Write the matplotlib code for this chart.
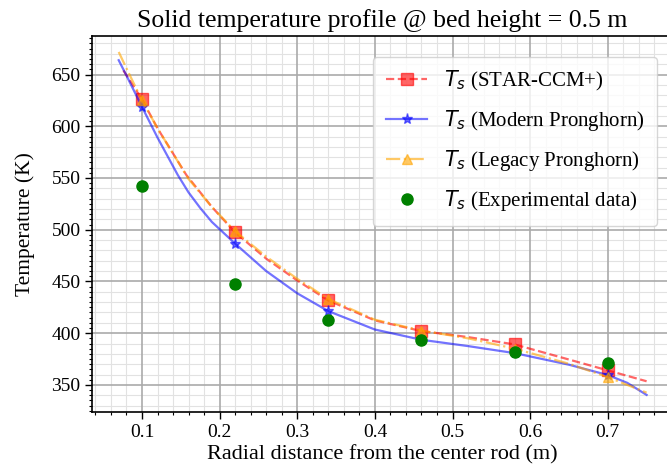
import numpy as np
import matplotlib
matplotlib.use("Agg")
import matplotlib.pyplot as plt
from matplotlib.ticker import MultipleLocator

plt.rcParams['font.family'] = ['Liberation Serif', 'DejaVu Serif']
plt.rcParams['mathtext.fontset'] = 'dejavusans'

# ---- data ----
marker_x = [0.10, 0.22, 0.34, 0.46, 0.58, 0.70]

star_x = [0.076, 0.10, 0.12, 0.157, 0.19, 0.22, 0.26, 0.30, 0.34, 0.40, 0.46, 0.52, 0.58, 0.65, 0.70, 0.75]
star_T = [654, 625.9, 598, 553, 522, 497.4, 472, 450.9, 431.6, 412.3, 402, 396.2, 389.1, 374.5, 364, 353.5]

modern_x = [0.07, 0.08, 0.10, 0.12, 0.146, 0.16, 0.175, 0.19, 0.22, 0.26, 0.30, 0.34, 0.40, 0.46, 0.52, 0.58, 0.65, 0.70, 0.725, 0.75]
modern_T = [663.8, 649, 618.7, 589, 553, 536, 521, 507.5, 486.5, 460, 438.5, 421.3, 403.5, 393.6, 387.5, 380.7, 369.5, 359.5, 352, 340.3]

legacy_x = [0.07, 0.08, 0.10, 0.12, 0.16, 0.19, 0.22, 0.26, 0.30, 0.34, 0.40, 0.46, 0.52, 0.58, 0.65, 0.70, 0.75]
legacy_T = [671.8, 656, 625, 598, 549, 522, 498.5, 474, 452.5, 433, 413, 402.5, 395, 385, 370.4, 357.5, 342.5]

exp_x = [0.10, 0.22, 0.34, 0.46, 0.58, 0.70]
exp_T = [542.5, 447.9, 413, 393, 381.7, 371.4]

labels = [r'$T_s$ (STAR-CCM+)', r'$T_s$ (Modern Pronghorn)',
          r'$T_s$ (Legacy Pronghorn)', r'$T_s$ (Experimental data)']
title = 'Solid temperature profile @ bed height = 0.5 m'
xlabel = 'Radial distance from the center rod (m)'
ylabel = 'Temperature (K)'


def mark_idx(xs):
    return [i for i, v in enumerate(xs) if any(abs(v - m) < 1e-9 for m in marker_x)]


fig = plt.figure(figsize=(6.67, 4.75), dpi=100)
ax = fig.add_axes([0.1384, 0.132, 0.8706, 0.7928])

ax.plot(star_x, star_T, color='red', alpha=0.6, ls='--', lw=1.6, marker='s', ms=8,
        markevery=mark_idx(star_x), label=labels[0], zorder=3)
ax.plot(modern_x, modern_T, color='blue', alpha=0.55, ls='-', lw=1.6, marker='*', ms=8,
        markevery=mark_idx(modern_x), label=labels[1], zorder=3)
ax.plot(legacy_x, legacy_T, color='orange', alpha=0.6, ls='-.', lw=1.6, marker='^', ms=7,
        markevery=mark_idx(legacy_x), label=labels[2], zorder=3)
ax.plot(exp_x, exp_T, color='green', ls='none', marker='o', ms=8, label=labels[3], zorder=4)

ax.set_xlim(0.036, 0.784)
ax.set_ylim(323.5, 687.5)

ax.xaxis.set_major_locator(MultipleLocator(0.1))
ax.xaxis.set_minor_locator(MultipleLocator(0.02))
ax.yaxis.set_major_locator(MultipleLocator(50))
ax.yaxis.set_minor_locator(MultipleLocator(5))

ax.grid(which='major', color='#aaaaaa', lw=1.2, zorder=0)
ax.grid(which='minor', axis='x', color='#e2e2e2', lw=0.8, zorder=0)
for yv in np.arange(330, 690, 10):
    if yv % 50:
        ax.axhline(yv, color='#e2e2e2', lw=0.8, zorder=0)
ax.set_axisbelow(True)

ax.tick_params(which='major', length=5, width=1.0, labelsize=14, direction='out')
ax.tick_params(which='minor', length=2.5, width=0.8, direction='out')
for s in ax.spines.values():
    s.set_linewidth(1.2)
    s.set_color('black')

ax.set_title(title, fontsize=18.5, pad=6)
ax.set_xlabel(xlabel, fontsize=16, labelpad=3)
ax.set_ylabel(ylabel, fontsize=15.5, labelpad=12)

leg = ax.legend(loc='upper left', bbox_to_anchor=(0.466, 0.972), fontsize=15,
                handlelength=2.0, borderpad=0.6, labelspacing=0.72, framealpha=0.8)

fig.savefig('out.png', dpi=100)
